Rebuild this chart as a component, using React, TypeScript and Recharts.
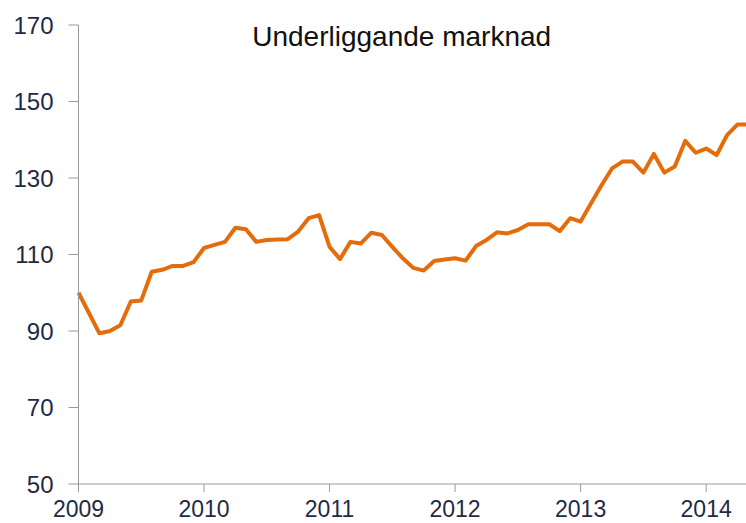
import { Line, LineChart, XAxis, YAxis } from "recharts";

// Månadsvärden, jan 2009 – maj 2014
const values = [
  100, 94.7, 89.4, 90, 91.5, 97.7, 98, 105.5, 106, 107, 107, 108,
  111.7, 112.5, 113.3, 117, 116.6, 113.3, 113.8, 113.9, 114, 116, 119.5, 120.3,
  112, 108.8, 113.3, 112.9, 115.7, 115.1, 112, 109, 106.5, 105.8, 108.3, 108.7,
  109, 108.4, 112.2, 113.8, 115.8, 115.5, 116.4, 117.9, 117.9, 117.9, 116.1, 119.5,
  118.6, 123.4, 128.1, 132.5, 134.3, 134.3, 131.4, 136.3, 131.4, 133, 139.7, 136.6,
  137.7, 136, 141.2, 144, 144
];

const years = ["2009", "2010", "2011", "2012", "2013", "2014"];
const yTicks = [50, 70, 90, 110, 130, 150, 170];

const data = values.map((value, month) => ({ month, value }));
const xTicks = years.map((_, i) => i * 12);

const font = "Liberation Sans, Arial, sans-serif";
const yTickStyle = { fill: "#1f2a44", fontSize: 24, fontFamily: font };
const xTickStyle = { fill: "#1f2a44", fontSize: 23, fontFamily: font };

export default function App() {
  return (
    <div style={{ position: "fixed", left: 0, top: 0, width: 746, height: 523, overflow: "hidden", background: "#fff" }}>
      <LineChart width={750} height={523} data={data} margin={{ top: 25, right: 2, bottom: 0, left: 0 }}>
        <XAxis
          dataKey="month"
          type="number"
          domain={[0, 64]}
          ticks={xTicks}
          tickFormatter={(v: number) => years[v / 12]}
          interval={0}
          height={39}
          stroke="#999999"
          tickSize={8}
          tickMargin={9}
          tick={xTickStyle}
        />
        <YAxis
          domain={[50, 170]}
          ticks={yTicks}
          interval={0}
          width={78.5}
          stroke="#999999"
          tickSize={10}
          tickMargin={15}
          tick={yTickStyle}
        />
        <Line
          dataKey="value"
          stroke="#e46c0a"
          strokeWidth={4}
          dot={false}
          type="linear"
          strokeLinejoin="round"
          isAnimationActive={false}
        />
      </LineChart>
      <div
        style={{
          position: "absolute",
          left: 401.7,
          top: 23,
          transform: "translateX(-50%)",
          whiteSpace: "nowrap",
          fontFamily: font,
          fontSize: 28,
          lineHeight: "28px",
          color: "#111111"
        }}
      >
        Underliggande marknad
      </div>
    </div>
  );
}
